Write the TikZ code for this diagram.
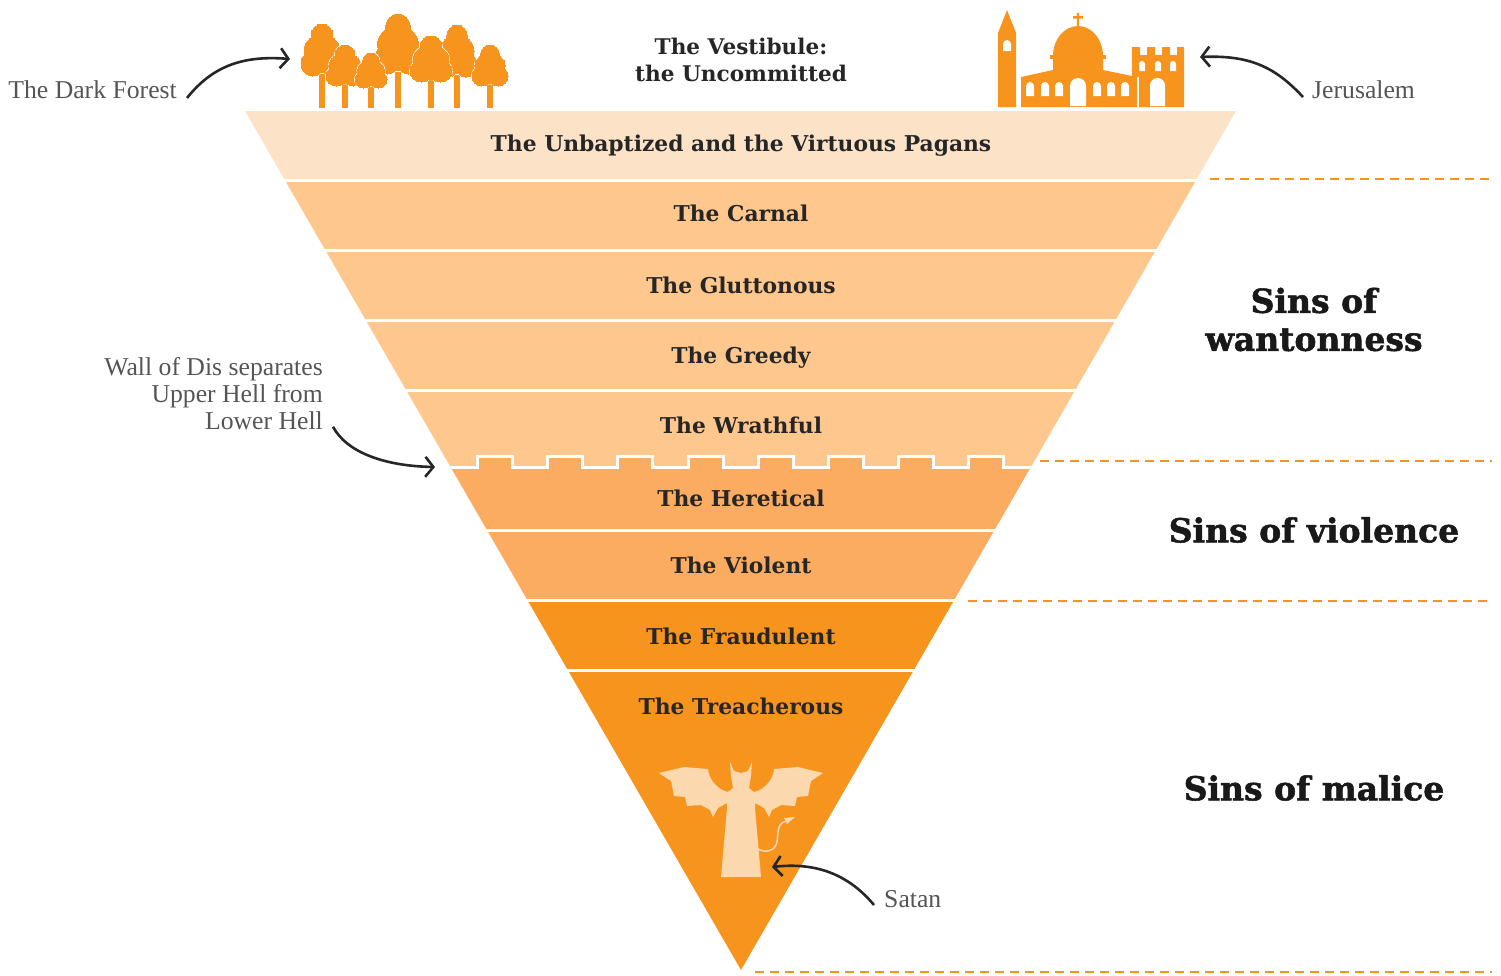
\documentclass[tikz,border=0pt]{standalone}
\usepackage{fontspec}
\setmainfont{Liberation Serif}
\newfontfamily\slabfont{DejaVu Serif}
\newfontfamily\heavyfont[BoldFeatures={FakeBold=1.6}]{DejaVu Serif}
\usetikzlibrary{positioning, arrows.meta}
\definecolor{PaleBand}{HTML}{FCE2C6}
\definecolor{LightBand}{HTML}{FDC78E}
\definecolor{MidBand}{HTML}{FBAC60}
\definecolor{DeepBand}{HTML}{F7941E}
\definecolor{SatanBody}{HTML}{FBD8AE}
\definecolor{NoteGray}{HTML}{555555}
\tikzstyle{Arrow} = [
line width=2.6pt, draw=black!85,
-{Straight Barb[length=8pt,width=20pt,line width=2.6pt]}]
\tikzstyle{Band} = [
font=\slabfont\bfseries\fontsize{21.8}{27}\selectfont, text=black!85,
text height=16pt, text depth=5pt, minimum height=30pt, inner sep=0pt]
\tikzstyle{Sin} = [
font=\heavyfont\bfseries\fontsize{33}{38}\selectfont, text=black!90, align=center]
\tikzstyle{Note} = [
font=\fontsize{25.7}{27}\selectfont, text=NoteGray, inner sep=3pt]
\tikzstyle{Divider} = [
draw=DeepBand, line width=2.5pt, dash pattern=on 9pt off 6pt]
\begin{document}
\begin{tikzpicture}[x=1pt, y=-1pt]
    \useasboundingbox (0,0) rectangle (1501,975);
    % pit
    \begin{scope}
        \clip (245,111) -- (1236,111) -- (741,970) -- cycle;
        \fill[PaleBand] (200,111) rectangle (1300,178.5);
        \foreach \ty in {181.5,251.5,321.5,391.5}
            \fill[LightBand] (200,\ty) rectangle (1300,\ty+67);
        \fill[LightBand] (200,455) rectangle (1300,470);
        \draw[white, line width=3pt, fill=MidBand] (430,467)
            foreach \x in {477,547,617,688,758,828,898,968} {
                -- (\x,467) -- (\x,456) -- (\x+35,456) -- (\x+35,467)}
            -- (1050,467) -- (1050,530) -- (430,530) -- cycle;
        \fill[MidBand] (200,531.5) rectangle (1300,598.5);
        \fill[DeepBand] (200,601.5) rectangle (1300,668.5);
        \fill[DeepBand] (200,671.5) rectangle (1300,975);
    \end{scope}
    % band names
    \node [Band] at (741,146) (1) {The Unbaptized and the Virtuous Pagans};
    \node [Band, below=40pt of 1] (2) {The Carnal};
    \node [Band, below=41pt of 2] (3) {The Gluttonous};
    \node [Band, below=40pt of 3] (4) {The Greedy};
    \node [Band, below=39pt of 4] (5) {The Wrathful};
    \node [Band, below=43pt of 5] (6) {The Heretical};
    \node [Band, below=37pt of 6] (7) {The Violent};
    \node [Band, below=40pt of 7] (8) {The Fraudulent};
    \node [Band, below=40pt of 8] (9) {The Treacherous};
    \node [Band, align=center, text height=, text depth=, font=\slabfont\bfseries\fontsize{21.6}{27}\selectfont]
        at (741,60) (10) {The Vestibule:\\the Uncommitted};
    % sin groups
    \node [Sin] at (1314,319.5) (11) {Sins of\\wantonness};
    \node [Sin] at (1314,530) (12) {Sins of violence};
    \node [Sin] at (1314,788) (13) {Sins of malice};
    \coordinate (d1) at (1210,179); \coordinate (e1) at (1492,179);
    \coordinate (d2) at (1040,461); \coordinate (e2) at (1492,461);
    \coordinate (d3) at (968,601);  \coordinate (e3) at (1492,601);
    \coordinate (d4) at (755,972);  \coordinate (e4) at (1492,972);
    \foreach \n in {1,2,3,4}
        \draw[Divider] (d\n) -- (e\n);
    % forest
    \foreach \tx/\ttop/\tbot/\tw in {322/24/76/21, 398/14/74/24, 457/25/77/20, 345/45/86/19, 371/53/88/16, 431/36/82/21, 490/45/86/18} {
        \fill[DeepBand] (\tx-3.3,\tbot-2) rectangle (\tx+3.3,108);
        \foreach \col/\ext in {white/1.8pt, DeepBand/0pt}
            \fill[\col, draw=\col, line width=\ext]
                (\tx,\ttop+.22*\tbot-.22*\ttop) ellipse ({.52*\tw} and {.22*\tbot-.22*\ttop})
                (\tx,\ttop+.5*\tbot-.5*\ttop) ellipse ({.85*\tw} and {.3*\tbot-.3*\ttop})
                (\tx-.45*\tw,\ttop+.76*\tbot-.76*\ttop) ellipse ({.55*\tw} and {.24*\tbot-.24*\ttop})
                (\tx+.45*\tw,\ttop+.76*\tbot-.76*\ttop) ellipse ({.55*\tw} and {.24*\tbot-.24*\ttop})
                (\tx,\ttop+.62*\tbot-.62*\ttop) ellipse ({.8*\tw} and {.32*\tbot-.32*\ttop});
    }
    % jerusalem
    \fill[DeepBand] (998,107) -- (998,33) -- (1007,10) -- (1016,33) -- (1016,107) -- cycle;
    \fill[DeepBand] (1021,107) -- (1021,77) -- (1053,70) -- (1103,70) -- (1137,77) -- (1137,107) -- cycle;
    \fill[DeepBand] (1050,59) rectangle (1106,55);
    \fill[DeepBand] (1053,72) -- (1053,56) arc[start angle=180, end angle=0, x radius=25, y radius=-30] -- (1103,72) -- cycle;
    \fill[DeepBand] (1076.8,13) rectangle (1079.2,27) (1073,16) rectangle (1083,18.5);
    \fill[DeepBand] (1139,107) -- (1139,77) -- (1132,77) -- (1132,47)
        foreach \x in {1140,1155,1170} {-- (\x,47) -- (\x,55) -- (\x+7,55) -- (\x+7,47)}
        -- (1184,47) -- (1184,107) -- cycle;
    \foreach \wx/\wtop/\wbot/\wr in {1007/40/51/4, 1030/82/96/4, 1045/82/96/4, 1059/82/96/4, 1097/82/96/4, 1111/82/96/4, 1125/82/96/4, 1078/78/106/8, 1142/61/71/3, 1158/61/71/3, 1173/61/71/3, 1157.5/78/106/7.5}
        \fill[white] (\wx-\wr,\wbot) -- (\wx-\wr,\wtop+\wr) arc[start angle=180, end angle=0, x radius=\wr, y radius=-\wr] -- (\wx+\wr,\wbot) -- cycle;
    % satan
    \foreach \s in {1,-1} {
        \begin{scope}[shift={(741,0)}, xscale=\s]
            \fill[SatanBody] (-82,773) -- (-57,767) -- (-33,769)
                .. controls (-32,780) and (-23,790) .. (-13,792)
                -- (-8,788) -- (-10,776) -- (-11,762) -- (-7,771) -- (0,773) -- (0,877) -- (-20,877) -- (-14,808)
                -- (-14,803) -- (-23,808) -- (-28,817) -- (-31,810) -- (-40,805) -- (-54,806) -- (-56,797)
                -- (-67,796) -- (-70,781) -- cycle;
        \end{scope}
    }
    \draw[SatanBody, line width=1.5pt] (758,849) .. controls (765,853) and (774,851) .. (776,845)
        .. controls (779,838) and (776,828) .. (782,823) -- (790,819);
    \fill[SatanBody] (784,818) -- (795,817) -- (787,824) -- cycle;
    % notes
    \node [Note, anchor=east] at (180,90) (14) {The Dark Forest};
    \node [Note, anchor=west] at (1309,90) (15) {Jerusalem};
    \node [Note, anchor=west] at (881,899) (16) {Satan};
    \node [Note, anchor=north east, align=right] at (326,354) (17) {Wall of Dis separates\\Upper Hell from\\Lower Hell};
    \coordinate (forest) at (290,59);
    \coordinate (city) at (1200,57);
    \coordinate (devil) at (772,867);
    \coordinate (wall) at (435,467);
    \draw[Arrow] (14.east) ++(7,8) .. controls +(24,-30) and +(-50,-4) .. (forest);
    \draw[Arrow] (15.west) ++(-6,7) .. controls +(-28,-30) and +(50,-2) .. (city);
    \draw[Arrow] (16.west) ++(-7,6) .. controls +(-25,-30) and +(45,-5) .. (devil);
    \draw[Arrow] (17.south east) ++(7,-6) .. controls +(14,26) and +(-50,-1) .. (wall);
\end{tikzpicture}
\end{document}
